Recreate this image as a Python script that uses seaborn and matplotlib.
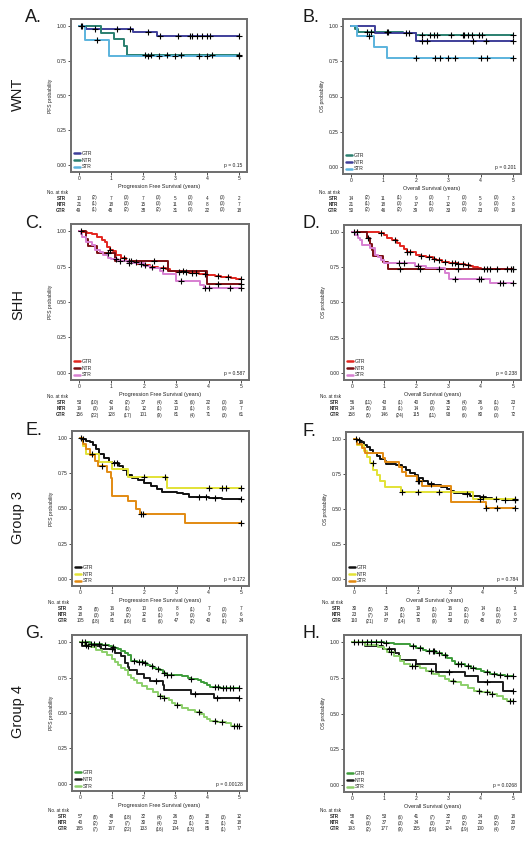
import numpy as np
import pandas as pd
import seaborn as sns
import matplotlib.pyplot as plt
from matplotlib.lines import Line2D
from matplotlib import transforms

sns.set_style("white")
plt.rcParams['font.family'] = ['Liberation Sans', 'DejaVu Sans']

# ---------------- DATA ----------------
arms = ["GTR", "NTR", "STR"]
table_rows = ["STR", "NTR", "GTR"]

# A. WNT - PFS
A_GTR_t = [0.22, 1.7, 2.45]
A_GTR_s = [0.98, 0.955, 0.93]
A_GTR_c = [0.05, 0.1, 0.5, 1.18, 1.6, 2.15, 2.52, 3.1, 3.46, 3.54, 3.69, 3.85, 4.0, 4.09, 5.0]
A_NTR_t = [0.7, 1.1, 1.42, 1.5]
A_NTR_s = [0.952, 0.905, 0.857, 0.79]
A_NTR_c = [2.05, 2.25, 2.75, 3.2, 4.15, 5.0]
A_STR_t = [0.2, 0.95]
A_STR_s = [0.9, 0.7875]
A_STR_c = [0.55, 2.15, 2.5, 3.0, 3.75, 4.0, 5.0]
A_risk = {"STR": ["10", "(2)", "7", "(0)", "7", "(0)", "5", "(0)", "4", "(0)", "2"],
          "NTR": ["21", "(1)", "18", "(3)", "15", "(0)", "11", "(0)", "8", "(0)", "7"],
          "GTR": ["49", "(1)", "45", "(2)", "38", "(2)", "31", "(0)", "22", "(0)", "18"]}

# B. WNT - OS
B_GTR_t = [0.12, 0.2, 1.6, 2.0]
B_GTR_s = [0.98, 0.96, 0.95, 0.935]
B_GTR_c = [0.5, 0.62, 1.1, 1.15, 1.7, 1.8, 2.2, 2.45, 2.55, 2.65, 3.1, 3.45, 3.5, 3.6, 3.75, 3.95, 4.05, 5.0]
B_NTR_t = [0.75, 2.0]
B_NTR_s = [0.952, 0.895]
B_NTR_c = [2.2, 2.35, 3.76, 4.16, 5.0]
B_STR_t = [0.18, 0.72, 1.1]
B_STR_s = [0.929, 0.851, 0.774]
B_STR_c = [0.55, 2.0, 2.6, 2.75, 3.0, 3.2, 4.0, 4.2, 5.0]
B_risk = {"STR": ["14", "(2)", "11", "(1)", "9", "(0)", "7", "(0)", "5", "(0)", "3"],
          "NTR": ["21", "(1)", "18", "(0)", "17", "(1)", "12", "(0)", "9", "(0)", "8"],
          "GTR": ["50", "(2)", "46", "(2)", "39", "(0)", "33", "(0)", "23", "(0)", "19"]}

# C. SHH - PFS
C_GTR_t = [0.1, 0.25, 0.4, 0.55, 0.7, 0.8, 0.85, 0.95, 1.05, 1.15, 1.3, 1.45, 1.6, 1.8, 2.0,
           2.2, 2.45, 2.7, 2.8, 3.0, 3.4, 3.7, 3.95, 4.2, 4.4, 4.7, 4.85]
C_GTR_s = [0.995, 0.99, 0.98, 0.96, 0.94, 0.92, 0.89, 0.87, 0.86, 0.83, 0.81, 0.79, 0.78, 0.77, 0.76,
           0.75, 0.74, 0.73, 0.72, 0.71, 0.705, 0.695, 0.69, 0.68, 0.675, 0.67, 0.665]
C_GTR_c = [0.05, 0.95, 1.4, 1.55, 1.75, 1.9, 2.05, 2.25, 2.6, 3.1, 3.3, 3.5, 3.6, 3.9, 4.3, 4.6, 5.0]
C_NTR_t = [0.22, 0.28, 0.55, 1.1, 2.75, 3.95]
C_NTR_s = [0.947, 0.895, 0.842, 0.789, 0.718, 0.628]
C_NTR_c = [0.9, 1.6, 2.3, 3.2, 4.3, 5.0]
C_STR_t = [0.05, 0.1, 0.2, 0.4, 0.5, 0.65, 0.75, 0.9, 1.0, 1.2, 1.5, 2.0, 2.2, 2.5, 2.6, 3.0, 3.75, 3.85]
C_STR_s = [0.98, 0.96, 0.925, 0.905, 0.87, 0.85, 0.83, 0.81, 0.80, 0.79, 0.775, 0.755, 0.74, 0.72,
           0.70, 0.645, 0.62, 0.60]
C_STR_c = [1.15, 1.25, 1.55, 3.15, 3.9, 4.0, 4.65, 5.0]
C_risk = {"STR": ["53", "(10)", "42", "(2)", "37", "(4)", "31", "(6)", "22", "(0)", "19"],
          "NTR": ["19", "(3)", "14", "(1)", "12", "(1)", "10", "(1)", "8", "(0)", "7"],
          "GTR": ["156", "(22)", "128", "(17)", "101", "(9)", "81", "(4)", "71", "(3)", "61"]}

# D. SHH - OS
D_GTR_t = [0.85, 0.9, 1.0, 1.1, 1.25, 1.4, 1.5, 1.6, 1.7, 1.9, 2.0, 2.1, 2.3, 2.5, 2.6, 2.8, 3.0,
           3.3, 3.5, 3.65, 3.75, 3.9, 4.0]
D_GTR_s = [0.995, 0.99, 0.98, 0.96, 0.94, 0.92, 0.90, 0.88, 0.86, 0.855, 0.84, 0.83, 0.82, 0.81, 0.80,
           0.79, 0.78, 0.775, 0.765, 0.76, 0.75, 0.745, 0.74]
D_GTR_c = [0.05, 0.15, 0.9, 1.35, 1.7, 1.8, 2.15, 2.4, 2.55, 2.7, 2.9, 3.1, 3.2, 3.3, 3.45, 3.6,
           4.1, 4.3, 4.5, 4.8, 4.95, 5.0]
D_NTR_t = [0.47, 0.57, 0.62, 0.65, 0.95, 1.12]
D_NTR_s = [0.958, 0.917, 0.875, 0.833, 0.79, 0.74]
D_NTR_c = [0.5, 1.5, 2.1, 2.7, 3.3, 4.2, 5.0]
D_STR_t = [0.1, 0.2, 0.25, 0.3, 0.55, 0.7, 0.8, 0.9, 1.0, 1.95, 2.3, 2.9, 3.0, 4.3]
D_STR_s = [0.98, 0.96, 0.94, 0.91, 0.89, 0.84, 0.82, 0.80, 0.78, 0.76, 0.745, 0.71, 0.665, 0.64]
D_STR_c = [1.45, 1.6, 2.05, 3.2, 3.95, 4.0, 4.6, 4.7, 5.0]
D_risk = {"STR": ["56", "(11)", "43", "(1)", "40", "(3)", "35", "(4)", "26", "(1)", "23"],
          "NTR": ["24", "(5)", "16", "(1)", "14", "(0)", "12", "(0)", "9", "(0)", "7"],
          "GTR": ["158", "(5)", "146", "(24)", "115", "(11)", "93", "(6)", "80", "(0)", "72"]}

# E. Group 3 - PFS
E_GTR_t = [0.05, 0.2, 0.3, 0.4, 0.5, 0.6, 0.75, 0.9, 1.0, 1.2, 1.35, 1.45, 1.6, 1.8, 2.0, 2.2, 2.4,
           2.55, 2.9, 3.0, 3.2, 3.4, 3.6, 4.0, 4.4, 4.5]
E_GTR_s = [0.99, 0.98, 0.97, 0.95, 0.92, 0.89, 0.86, 0.83, 0.82, 0.80, 0.77, 0.74, 0.72, 0.70, 0.68,
           0.66, 0.64, 0.62, 0.615, 0.61, 0.60, 0.585, 0.58, 0.575, 0.57, 0.565]
E_GTR_c = [0.02, 0.1, 1.05, 1.15, 3.7, 3.9, 4.2, 5.0]
E_NTR_t = [0.1, 0.2, 0.6, 1.0, 1.5, 2.7]
E_NTR_s = [0.944, 0.889, 0.833, 0.778, 0.722, 0.642]
E_NTR_c = [0.36, 2.0, 2.65, 4.0, 4.4, 4.55, 5.0]
E_STR_t = [0.1, 0.2, 0.3, 0.45, 0.55, 0.85, 0.95, 1.0, 1.48, 1.75, 1.85, 3.25]
E_STR_s = [0.96, 0.92, 0.88, 0.84, 0.80, 0.76, 0.72, 0.59, 0.55, 0.50, 0.46, 0.40]
E_STR_c = [0.67, 1.9, 1.96, 5.0]
E_risk = {"STR": ["25", "(8)", "16", "(5)", "10", "(0)", "8", "(1)", "7", "(0)", "7"],
          "NTR": ["18", "(3)", "14", "(2)", "12", "(1)", "9", "(0)", "9", "(0)", "6"],
          "GTR": ["105", "(18)", "81", "(16)", "61", "(6)", "47", "(2)", "40", "(1)", "34"]}

# F. Group 3 - OS
F_GTR_t = [0.1, 0.2, 0.3, 0.4, 0.5, 0.6, 0.7, 0.8, 0.95, 1.0, 1.3, 1.5, 1.6, 1.75, 1.9, 2.0, 2.15,
           2.3, 2.5, 2.7, 2.9, 3.0, 3.1, 3.4, 3.6, 3.9, 4.1, 4.3, 4.6]
F_GTR_s = [0.99, 0.98, 0.96, 0.94, 0.92, 0.90, 0.88, 0.86, 0.84, 0.82, 0.815, 0.80, 0.78, 0.76, 0.74,
           0.72, 0.70, 0.68, 0.67, 0.655, 0.645, 0.63, 0.615, 0.605, 0.595, 0.585, 0.58, 0.575, 0.565]
F_GTR_c = [0.05, 0.15, 2.4, 3.5, 4.0, 4.4, 4.7, 5.0]
F_NTR_t = [0.1, 0.3, 0.4, 0.5, 0.6, 0.7, 0.8, 0.95, 1.45, 3.7]
F_NTR_s = [0.957, 0.913, 0.87, 0.826, 0.78, 0.74, 0.70, 0.66, 0.62, 0.57]
F_NTR_c = [0.58, 1.5, 2.0, 2.65, 3.9, 5.0]
F_STR_t = [0.1, 0.25, 0.35, 0.9, 0.95, 1.4, 1.5, 1.6, 1.95, 2.1, 3.0, 4.1]
F_STR_s = [0.967, 0.933, 0.90, 0.867, 0.833, 0.80, 0.767, 0.733, 0.70, 0.667, 0.55, 0.51]
F_STR_c = [1.98, 2.03, 4.1, 4.45, 5.0]
F_risk = {"STR": ["30", "(5)", "25", "(5)", "19", "(1)", "16", "(2)", "14", "(1)", "11"],
          "NTR": ["23", "(7)", "14", "(1)", "12", "(0)", "10", "(1)", "9", "(0)", "6"],
          "GTR": ["110", "(21)", "87", "(14)", "70", "(9)", "53", "(3)", "45", "(3)", "37"]}

# G. Group 4 - PFS
G_GTR_t = [0.3, 0.5, 0.7, 0.9, 1.0, 1.1, 1.2, 1.3, 1.4, 1.5, 1.6, 1.8, 2.0, 2.1, 2.2, 2.3, 2.4, 2.5,
           2.6, 2.7, 3.0, 3.2, 3.4, 3.5, 3.7, 3.8, 3.9, 4.0, 4.1, 4.2, 4.4]
G_GTR_s = [0.99, 0.985, 0.98, 0.97, 0.965, 0.96, 0.95, 0.935, 0.92, 0.91, 0.87, 0.86, 0.85, 0.84,
           0.83, 0.82, 0.81, 0.80, 0.78, 0.77, 0.765, 0.76, 0.75, 0.74, 0.73, 0.72, 0.71, 0.70,
           0.685, 0.68, 0.675]
G_GTR_c = [0.05, 0.15, 0.35, 0.45, 0.6, 0.8, 1.05, 1.7, 1.85, 1.95, 2.05, 2.25, 2.45, 2.65, 2.75,
           2.85, 3.5, 4.25, 4.35, 4.5, 4.6, 4.7, 4.8, 5.0]
G_NTR_t = [0.05, 0.65, 1.1, 1.3, 1.4, 1.5, 1.55, 1.8, 2.0, 2.2, 2.6, 2.65, 3.5, 4.2]
G_NTR_s = [0.975, 0.95, 0.925, 0.90, 0.85, 0.825, 0.80, 0.775, 0.75, 0.725, 0.70, 0.66, 0.635, 0.605]
G_NTR_c = [0.25, 1.0, 2.4, 3.6, 4.3, 5.0]
G_STR_t = [0.15, 0.35, 0.5, 0.7, 0.85, 1.0, 1.1, 1.2, 1.3, 1.4, 1.5, 1.6, 1.7, 1.8, 1.95, 2.1, 2.3,
           2.45, 2.6, 2.8, 2.9, 3.0, 3.2, 3.4, 3.6, 3.8, 3.9, 4.0, 4.1, 4.3, 4.6, 4.75]
G_STR_s = [0.982, 0.965, 0.947, 0.93, 0.91, 0.88, 0.86, 0.84, 0.82, 0.80, 0.77, 0.75, 0.73, 0.71,
           0.69, 0.67, 0.65, 0.62, 0.605, 0.59, 0.57, 0.555, 0.535, 0.52, 0.505, 0.49, 0.475, 0.46,
           0.445, 0.44, 0.43, 0.41]
G_STR_c = [0.2, 2.5, 2.65, 3.05, 3.75, 4.25, 4.45, 4.85, 4.95, 5.0]
G_risk = {"STR": ["57", "(8)", "48", "(18)", "32", "(4)", "26", "(5)", "18", "(3)", "12"],
          "NTR": ["40", "(2)", "37", "(7)", "30", "(4)", "23", "(1)", "21", "(1)", "18"],
          "GTR": ["185", "(7)", "167", "(22)", "133", "(16)", "104", "(13)", "85", "(1)", "77"]}

# H. Group 4 - OS
H_GTR_t = [1.0, 1.3, 1.5, 1.8, 2.0, 2.2, 2.3, 2.6, 2.8, 2.95, 3.1, 3.2, 3.5, 3.7, 3.85, 4.0, 4.1,
           4.3, 4.5, 4.75]
H_GTR_s = [0.995, 0.99, 0.985, 0.975, 0.96, 0.945, 0.935, 0.925, 0.91, 0.89, 0.87, 0.845, 0.835,
           0.82, 0.81, 0.80, 0.79, 0.78, 0.77, 0.76]
H_GTR_c = [0.05, 0.2, 0.3, 0.45, 0.6, 0.75, 0.9, 1.05, 1.9, 2.1, 2.4, 2.5, 2.55, 2.7, 2.9, 3.3,
           3.4, 3.6, 3.75, 4.2, 4.4, 4.6, 4.8, 5.0]
H_NTR_t = [0.4, 0.95, 1.35, 1.45, 1.5, 2.0, 2.6, 3.5, 3.9, 4.7]
H_NTR_s = [0.976, 0.951, 0.927, 0.90, 0.875, 0.85, 0.79, 0.76, 0.72, 0.66]
H_NTR_c = [1.15, 3.0, 4.2, 5.0]
H_STR_t = [0.4, 0.8, 1.0, 1.1, 1.3, 1.5, 1.6, 1.8, 2.1, 2.3, 2.5, 2.7, 2.9, 3.0, 3.2, 3.4, 3.6,
           3.8, 4.0, 4.3, 4.5, 4.7, 4.8]
H_STR_s = [0.983, 0.965, 0.95, 0.93, 0.90, 0.87, 0.85, 0.83, 0.82, 0.80, 0.78, 0.76, 0.74, 0.73,
           0.72, 0.70, 0.68, 0.66, 0.65, 0.635, 0.62, 0.60, 0.59]
H_STR_c = [1.2, 1.85, 1.95, 2.45, 3.15, 3.95, 4.2, 4.35, 4.9, 5.0]
H_risk = {"STR": ["58", "(2)", "53", "(6)", "41", "(7)", "32", "(3)", "24", "(3)", "18"],
          "NTR": ["41", "(3)", "37", "(3)", "34", "(3)", "27", "(2)", "23", "(2)", "20"],
          "GTR": ["193", "(2)", "177", "(9)", "155", "(19)", "124", "(19)", "100", "(4)", "87"]}

# colours per panel (GTR, NTR, STR)
wnt_pfs_cols = ["#3f3f9a", "#2a7f6f", "#5bb3dd"]
wnt_os_cols = ["#2a7f6f", "#3f3f9a", "#5bb3dd"]
shh_cols = ["#e3261f", "#7b0f12", "#d77fd1"]
g3_cols = ["#111111", "#e2e236", "#e28a12"]
g4_cols = ["#3d9c3a", "#1c1c1c", "#8ccf6a"]

p_values = ["p = 0.15", "p = 0.201", "p = 0.587", "p = 0.238",
            "p = 0.172", "p = 0.784", "p = 0.00128", "p = 0.0268"]
group_names = ["WNT", "SHH", "Group 3", "Group 4"]

# ---------------- LAYOUT (pixels) ----------------
W, H = 530, 842
# frame left, right, top, bottom ; first row of risk table
frames = {"A": (71, 247, 19, 172, 198), "B": (343, 521, 19, 174, 198),
          "C": (71, 249, 224, 380, 403), "D": (344, 521, 225, 380, 403),
          "E": (72, 249, 431, 586, 609), "F": (346, 523, 432, 586, 609),
          "G": (72, 247, 635, 791, 817), "H": (344, 521, 635, 792, 817)}
group_y = [94, 304, 517, 712]

g = globals()
panels = []
for i, key in enumerate("ABCDEFGH"):
    cols = [wnt_pfs_cols, wnt_os_cols, shh_cols, shh_cols, g3_cols, g3_cols, g4_cols, g4_cols][i]
    curves = [(g[f"{key}_{a}_t"], g[f"{key}_{a}_s"], g[f"{key}_{a}_c"]) for a in arms]
    panels.append(dict(key=key, curves=curves, cols=cols, risk=g[f"{key}_risk"],
                       pfs=(i % 2 == 0), p=p_values[i]))


def step_df(t, s):
    return pd.DataFrame({"time": [0.0] + list(t) + [5.0],
                         "surv": [1.0] + list(s) + [s[-1]]})


def surv_at(t, s, c):
    idx = np.searchsorted(np.array(t), np.array(c), side="right")
    sv = np.concatenate([[1.0], s])
    return sv[idx]


fig = plt.figure(figsize=(W / 100, H / 100), dpi=100)
tfs = 3.6

for pan in panels:
    l, r, t, b, row0 = frames[pan["key"]]
    ax = fig.add_axes([l / W, 1 - b / H, (r - l) / W, (b - t) / H])
    for (tt, ss, cc), col in zip(pan["curves"], pan["cols"]):
        sns.lineplot(data=step_df(tt, ss), x="time", y="surv", ax=ax, color=col,
                     linewidth=1.4, drawstyle="steps-post", estimator=None, sort=False,
                     legend=False)
    for (tt, ss, cc), col in zip(pan["curves"], pan["cols"]):
        ax.plot(cc, surv_at(tt, ss, cc), linestyle="none", marker="+", color="black",
                markersize=3.8, markeredgewidth=0.8, zorder=5, clip_on=False)

    ax.set_xlim(-0.25, 5.25)
    ax.set_ylim(-0.05, 1.05)
    ax.set_xticks(range(6))
    ax.set_yticks([0, 0.25, 0.5, 0.75, 1.0])
    ax.set_yticklabels(["0.00", "0.25", "0.50", "0.75", "1.00"])
    ax.tick_params(direction="out", length=2, width=0.6, labelsize=tfs, pad=1,
                   color="#333333", labelcolor="#222222", left=True, bottom=True)
    for sp in ax.spines.values():
        sp.set_color("#6e6e6e")
        sp.set_linewidth(1.4)
    ax.set_ylabel("PFS probability" if pan["pfs"] else "OS probability",
                  fontsize=tfs, labelpad=3, color="#222222")
    ax.set_xlabel("Progression Free Survival (years)" if pan["pfs"] else "Overall Survival (years)",
                  fontsize=tfs + 0.4, labelpad=2, color="#222222")

    handles = [Line2D([0], [0], color=c, lw=1.8) for c in pan["cols"]]
    ax.legend(handles, arms, loc="lower left", fontsize=tfs, frameon=False,
              handlelength=1.3, handletextpad=0.4, labelspacing=0.35,
              borderaxespad=0.3, borderpad=0.2)
    ax.text(0.975, 0.025, pan["p"], transform=ax.transAxes, ha="right", va="bottom",
            fontsize=tfs, color="#222222")

    # risk table
    tr = transforms.blended_transform_factory(ax.transData, fig.transFigure)
    fig.text((l - 24) / W, 1 - (row0 - 6) / H, "No. at risk", fontsize=3.3,
             ha="left", va="center", color="#222222")
    for j, arm in enumerate(table_rows):
        yy = 1 - (row0 + 6 * j) / H
        fig.text((l - 5) / W, yy, arm, fontsize=3.3, ha="right", va="center",
                 fontweight="bold", color="#222222")
        for k, val in enumerate(pan["risk"][arm]):
            ax.text(k * 0.5, yy, val, transform=tr, fontsize=3.3, ha="center",
                    va="center", color="#222222", clip_on=False)

    # panel letter
    fig.text((25 if l < 200 else 302) / W, 1 - (t - 1) / H, pan["key"] + ".",
             fontsize=13, ha="left", va="center", color="#1a1a1a")

for name, yc in zip(group_names, group_y):
    fig.text(18 / W, 1 - yc / H, name, rotation=90, fontsize=10.5,
             ha="center", va="center", color="#1a1a1a")

fig.savefig("out.png", dpi=100)
